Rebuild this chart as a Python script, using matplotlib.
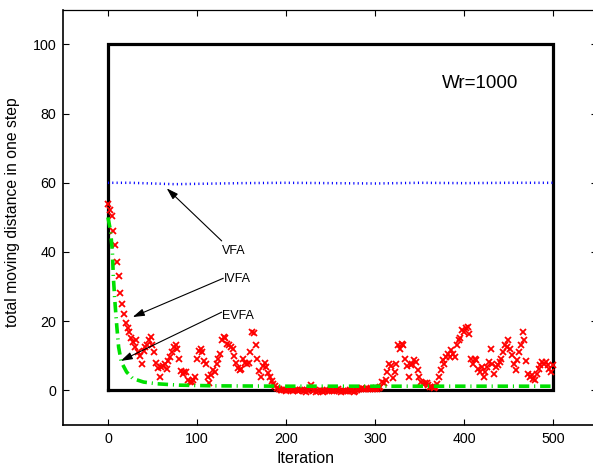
import numpy as np
import matplotlib
matplotlib.use("Agg")
import matplotlib.pyplot as plt

plt.rcParams['font.family'] = ['Liberation Sans', 'DejaVu Sans']
plt.rcParams['lines.scale_dashes'] = False

# IVFA: distance per iteration (red crosses), one value every 2 iterations
ivfa_x = np.arange(0, 501, 2)
ivfa_y = [
    54, 52, 50.5, 46, 42, 37, 33, 28, 25, 22,
    19.5, 18, 17, 15, 14, 12.5, 14.5, 11, 10, 7.5,
    11.5, 12.5, 13, 14.5, 15.5, 13, 11, 8, 6.5, 4,
    6.8, 7, 7.5, 6.3, 8.5, 9.7, 11, 12.5, 13, 12,
    9, 5.5, 4.8, 5.2, 5.3, 3, 2.5, 2.4, 3, 4,
    9.2, 11.5, 12, 11, 8.5, 7.5, 4, 2, 4.4, 5.8,
    5.3, 7.7, 9.2, 10.6, 14.5, 15.4, 15, 13.5, 13, 12.6,
    12, 10, 8, 6.5, 5.8, 6.3, 9, 8, 7.7, 8,
    11, 17, 16.5, 13, 9, 5.5, 4, 7, 8, 6.8,
    5, 3.8, 2.8, 1.8, 1.2, 0.8, 0.4, 0.2, 0.1, 0.0,
    -0.2, 0.1, 0.3, 0.0, -0.3, 0.2, 0.2, -0.2, 0.0, 0.1,
    -0.3, -0.4, 0.0, 0.2, 1.5, -0.2, 0.0, -0.4, -0.3, 0.1,
    -0.2, -0.4, -0.3, 0.0, -0.2, 0.1, -0.3, -0.2, 0.0, 0.3,
    -0.2, -0.4, -0.3, -0.1, -0.3, -0.2, 0.0, -0.3, -0.4, -0.2,
    0.2, 0.4, 0.3, 0.6, 0.5, 0.4, 0.3, 0.5, 0.6, 0.4,
    0.5, 0.4, 0.6, 1.0, 2.4, 2.0, 2.9, 5.3, 7.7, 7.0,
    3.6, 5.3, 7.7, 13, 12, 13.5, 13, 9.2, 7, 4,
    7.2, 7.5, 8.7, 8.2, 5.8, 3.9, 2.4, 1.9, 2, 2,
    1.5, 1, 1, 0.8, 1, 1.8, 3.9, 5.8, 8.7, 7.7,
    9.7, 10.6, 9.7, 11.6, 10.6, 9.7, 13, 14.5, 15, 17.4,
    17, 17.9, 18.3, 16.4, 9.2, 7.7, 9.2, 8.7, 6.3, 5.3,
    6.8, 3.9, 5.3, 6.8, 8.2, 12, 7.7, 4.8, 6.8, 7.2,
    8.2, 9.2, 11, 13, 12.6, 14.5, 12, 10.1, 7.7, 6,
    8.7, 11, 13, 17, 14.5, 8.5, 4.8, 3.9, 4.3, 3.4,
    2.9, 4.8, 6.3, 7.2, 8.2, 7.7, 8.2, 7.2, 6.3, 5.3,
    7.2,
]

# EVFA: green dash-dot curve
evfa_x = [0, 3, 5, 6, 8, 10, 12, 15, 21, 28, 40, 55, 80, 120, 200, 300, 400, 500]
evfa_y = [50, 46, 40, 33, 25, 18.3, 12.5, 8.2, 5.3, 3.4, 2.4, 1.9, 1.5, 1.3, 1.2, 1.2, 1.2, 1.2]

# VFA: blue dotted line
vfa_x = [0, 25, 50, 75, 100, 125, 150, 200, 250, 300, 350, 400, 450, 500]
vfa_y = [60, 60, 59.8, 59.6, 59.7, 59.8, 59.9, 60, 59.9, 59.8, 60, 59.9, 60, 60]

xticks = [0, 100, 200, 300, 400, 500]
yticks = [0, 20, 40, 60, 80, 100]

fig = plt.figure(figsize=(5.93, 4.68), dpi=100)
ax = fig.add_axes([0.107, 0.092, 0.9005, 0.887])

# thick black frame around the data region
ax.plot([0, 500, 500, 0, 0], [0, 0, 100, 100, 0], color='black', lw=2.3,
        solid_joinstyle='miter', zorder=2)

ax.plot(ivfa_x, ivfa_y, linestyle='none', marker='x', color='red',
        markersize=4.6, markeredgewidth=1.3, zorder=3)

green, = ax.plot(evfa_x, evfa_y, color='#00e000', lw=2.6, zorder=4,
                 solid_capstyle='butt', dash_capstyle='butt')
green.set_dashes((7.5, 3.5, 0.8, 3.5))

blue, = ax.plot(vfa_x, vfa_y, color='blue', lw=1.8, zorder=4,
                dash_capstyle='butt')
blue.set_dashes((0.8, 2.3))

arrow = dict(arrowstyle='-|>,head_length=0.7,head_width=0.22', color='black',
             lw=0.8, shrinkA=0, shrinkB=0)
ax.annotate('', xy=(66, 58.4), xytext=(127.8, 43.2), arrowprops=arrow)
ax.annotate('', xy=(27.8, 21.2), xytext=(129.6, 32.4), arrowprops=arrow)
ax.annotate('', xy=(14.3, 8.5), xytext=(127.8, 22.6), arrowprops=arrow)
ax.text(127.8, 40.3, 'VFA', fontsize=9, va='center', ha='left')
ax.text(130.3, 32.1, 'IVFA', fontsize=9, va='center', ha='left')
ax.text(127.8, 21.5, 'EVFA', fontsize=9, va='center', ha='left')
ax.text(375, 88.6, 'Wr=1000', fontsize=13.5, va='center', ha='left')

ax.set_xlim(-50, 550)
ax.set_ylim(-10, 110)
ax.set_xticks(xticks)
ax.set_yticks(yticks)
ax.tick_params(direction='in', length=4, width=0.8, top=True, right=True,
               labelsize=10.3, pad=5)
for s in ax.spines.values():
    s.set_linewidth(1.2)
ax.spines['top'].set_linewidth(0.9)
# right edge of the axes box lies just past the picture's edge
ax.spines['right'].set_visible(False)

ax.set_xlabel('Iteration', fontsize=11.5)
ax.xaxis.set_label_coords(0.454, -0.063)
ax.set_ylabel('total moving distance in one step', fontsize=11.3)
ax.yaxis.set_label_coords(-0.082, 0.513)

fig.savefig('out.png', dpi=100)
